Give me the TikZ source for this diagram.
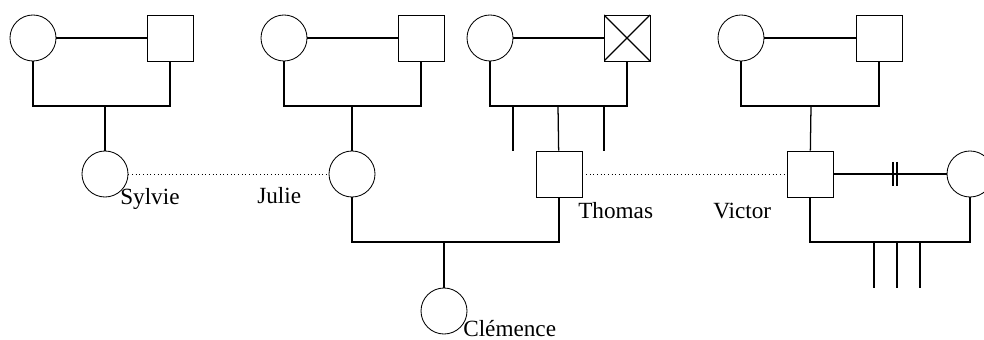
\documentclass[tikz,border=0pt]{standalone}
\usepackage{fontspec}
\setmainfont{Liberation Serif}
\usepackage{tikz}
\usetikzlibrary{positioning,calc}

\begin{document}
\begin{tikzpicture}[
    x=0.025cm, y=-0.025cm,
    female/.style={draw, circle, minimum size=1.15cm, inner sep=0pt, line width=0.6pt},
    male/.style={draw, rectangle, minimum size=1.15cm, inner sep=0pt, line width=0.6pt},
    deceased/.style={male, path picture={\draw[line width=0.9pt] (path picture bounding box.north west) -- (path picture bounding box.south east) (path picture bounding box.north east) -- (path picture bounding box.south west);}},
    tag/.style={anchor=base west, inner sep=0pt, font=\fontsize{16.5}{18}\selectfont},
    link/.style={line width=0.9pt},
    kin/.style={dotted, line width=0.6pt},
]
    \useasboundingbox (0,0) rectangle (984,340);

    % grandparents
    \node[female] (gm1) at (33,38) {};
    \node[male] (gp1) at (170,38) {};
    \node[female] (gm2) at (284,38) {};
    \node[male] (gp2) at (421,38) {};
    \node[female] (gm3) at (490,38) {};
    \node[deceased] (gp3) at (627,38) {};
    \node[female] (gm4) at (741,38) {};
    \node[male] (gp4) at (879,38) {};

    % second generation
    \node[female] (sylvie) at (105,174) {};
    \node[female] (julie) at (352,174) {};
    \node[male] (thomas) at (559,174) {};
    \node[male] (victor) at (810,174) {};
    \node[female] (wife) at (970,174) {};
    \node[female] (clemence) at (444,311) {};

    \node[tag] (lsylvie) at (120,205) {Sylvie};
    \node[tag] (ljulie) at (257,204) {Julie};
    \node[tag] (lthomas) at (578,219) {Thomas};
    \node[tag] (lvictor) at (713,219) {Victor};
    \node[tag] (lclemence) at (463,336) {Clémence};

    \coordinate (bar1) at (105,106);
    \coordinate (bar2) at (352,106);
    \coordinate (bar3) at (558,106);
    \coordinate (bar4) at (811,106);
    \coordinate (bar5) at (444,242);
    \coordinate (bar6) at (897,242);
    \coordinate (sib3a) at (513,151);
    \coordinate (sib3b) at (604,151);
    \coordinate (sib6a) at (874,288);
    \coordinate (sib6b) at (897,288);
    \coordinate (sib6c) at (920,288);

    \draw[link] (gm1.east) -- (gp1.west);
    \draw[link] (gm1.south) |- (bar1) -| (gp1.south);
    \draw[link] (bar1) -- (sylvie);

    \draw[link] (gm2.east) -- (gp2.west);
    \draw[link] (gm2.south) |- (bar2) -| (gp2.south);
    \draw[link] (bar2) -- (julie);

    \draw[link] (gm3.east) -- (gp3.west);
    \draw[link] (gm3.south) |- (bar3) -| (gp3.south);
    \draw[link] (bar3) -- (thomas);
    \draw[link] (sib3a |- bar3) -- (sib3a);
    \draw[link] (sib3b |- bar3) -- (sib3b);

    \draw[link] (gm4.east) -- (gp4.west);
    \draw[link] (gm4.south) |- (bar4) -| (gp4.south);
    \draw[link] (bar4) -- (victor);

    \draw[kin] (sylvie) -- (julie);
    \draw[kin] (thomas) -- (victor);

    \draw[link] (julie.south) |- (bar5) -| (thomas.south);
    \draw[link] (bar5) -- (clemence);

    % divorced couple
    \draw[link] (victor) -- (wife);
    \path (victor.east) -- (wife.west) coordinate[pos=0.527] (tk1) coordinate[pos=0.562] (tk2);
    \draw[link] (tk1) ++(0,-12) -- ++(0,24);
    \draw[link] (tk2) ++(0,-12) -- ++(0,24);
    \draw[link] (victor.south) |- (bar6) -| (wife.south);
    \draw[link] (sib6a |- bar6) -- (sib6a);
    \draw[link] (sib6b |- bar6) -- (sib6b);
    \draw[link] (sib6c |- bar6) -- (sib6c);
\end{tikzpicture}
\end{document}
